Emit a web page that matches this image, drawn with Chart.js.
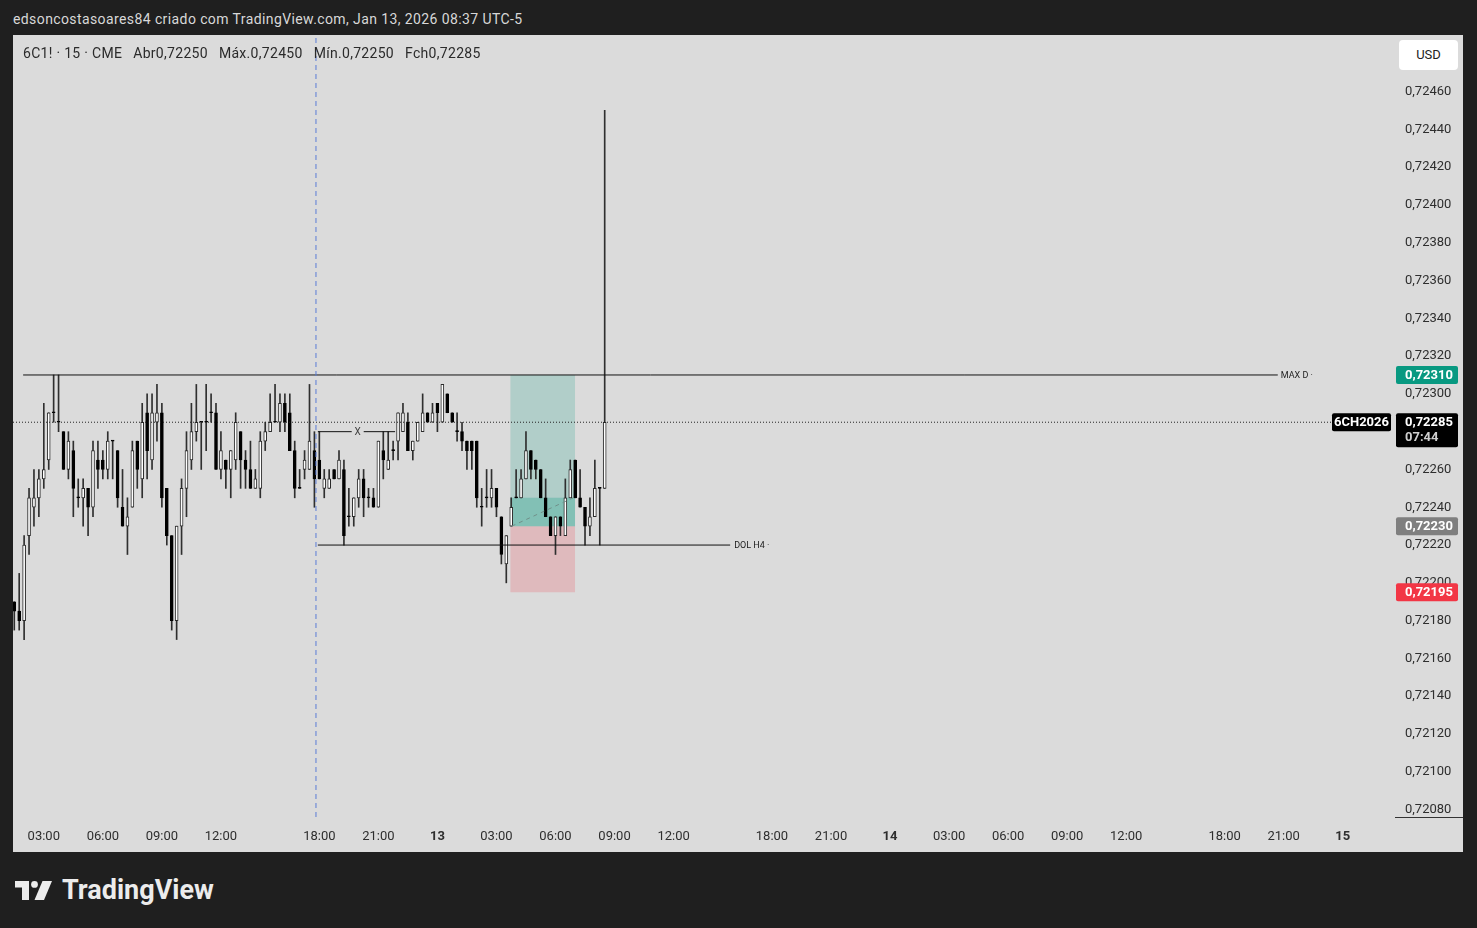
<!DOCTYPE html>
<html>
<head>
<meta charset="utf-8">
<title>6C1! · 15 · CME</title>
<script src="https://cdn.jsdelivr.net/npm/chart.js@4.4.1/dist/chart.umd.min.js"></script>
<style>
  html, body { margin: 0; padding: 0; width: 1477px; height: 928px; overflow: hidden; background: #1f1f1f; font-family: Roboto, "Liberation Sans", sans-serif; }
  #header { position: absolute; left: 13px; top: 11px; color: #d8d8d8; font-size: 14px; letter-spacing: 0.4px; white-space: nowrap; }
  #frame { position: absolute; left: 13px; top: 35px; width: 1450px; height: 817px; background: #dbdbdb; }
  #frame canvas { position: absolute; left: 0; top: 0; }
  #legend { position: absolute; left: 10px; top: 10px; color: #2b2b2b; font-size: 14px; letter-spacing: 0.3px; white-space: nowrap; z-index: 2; }
  #legend span { margin-right: 11px; }
  #usd { position: absolute; left: 1386px; top: 5px; width: 59px; height: 30px; background: #fff; border-radius: 4px; color: #222; font-size: 13px; line-height: 30px; text-align: center; z-index: 2; }
  #logo { position: absolute; left: 15px; top: 874px; height: 32px; display: flex; align-items: center; color: #ececec; font-size: 27px; font-weight: bold; letter-spacing: 0px; }
  #logo svg { margin-right: 10px; }
</style>
</head>
<body>
<div id="header">edsoncostasoares84 criado com TradingView.com, Jan 13, 2026 08:37 UTC-5</div>
<div id="frame">
  <canvas id="chart" width="1450" height="817"></canvas>
  <div id="legend"><span>6C1! · 15 · CME</span><span>Abr0,72250</span><span>Máx.0,72450</span><span>Mín.0,72250</span><span>Fch0,72285</span></div>
  <div id="usd">USD</div>
</div>
<div id="logo">
  <svg width="37" height="19" viewBox="0 0 37 19"><path d="M0 0H14V19H7V6.5H0Z" fill="#ececec"/><circle cx="19.5" cy="3.4" r="3.4" fill="#ececec"/><path d="M27.5 0H37L29 19H19.5Z" fill="#ececec"/></svg>
  TradingView
</div>
<script>
// 15 min candles, Jan 12 01:30 -> Jan 13 08:30
const opens = [
  0.72190,0.72185,0.72180,0.72225,0.72240,0.72245,0.72255,0.72265,0.72290,0.72285,
  0.72280,0.72260,0.72270,0.72245,0.72245,0.72250,0.72240,0.72265,0.72265,0.72260,
  0.72275,0.72270,0.72240,0.72230,0.72240,0.72275,0.72255,0.72290,0.72265,0.72285,
  0.72290,0.72250,0.72225,0.72180,0.72230,0.72250,0.72265,0.72280,0.72285,0.72285,
  0.72290,0.72290,0.72260,0.72265,0.72260,0.72265,0.72280,0.72265,0.72260,0.72250,
  0.72250,0.72275,0.72280,0.72285,0.72285,0.72295,0.72290,0.72270,0.72250,0.72260,
  0.72260,0.72270,0.72265,0.72250,0.72250,0.72260,0.72255,0.72260,0.72235,0.72235,
  0.72245,0.72255,0.72245,0.72245,0.72240,0.72270,0.72260,0.72270,0.72275,0.72280,
  0.72285,0.72270,0.72275,0.72280,0.72290,0.72285,0.72295,0.72285,0.72300,0.72290,
  0.72280,0.72280,0.72275,0.72275,0.72275,0.72240,0.72245,0.72245,0.72250,0.72235,
  0.72210,0.72230,0.72245,0.72245,0.72255,0.72270,0.72265,0.72260,0.72245,0.72235,
  0.72225,0.72235,0.72225,0.72245,0.72265,0.72245,0.72240,0.72230,0.72235,0.72250,
  0.72250
];
const highs = [
  0.72190,0.72205,0.72225,0.72250,0.72260,0.72260,0.72295,0.72290,0.72310,0.72310,
  0.72280,0.72280,0.72275,0.72255,0.72255,0.72250,0.72275,0.72275,0.72270,0.72280,
  0.72275,0.72270,0.72260,0.72245,0.72275,0.72275,0.72295,0.72300,0.72300,0.72305,
  0.72295,0.72250,0.72225,0.72230,0.72255,0.72280,0.72295,0.72305,0.72285,0.72305,
  0.72300,0.72295,0.72280,0.72265,0.72270,0.72290,0.72280,0.72270,0.72275,0.72260,
  0.72280,0.72285,0.72300,0.72305,0.72300,0.72300,0.72300,0.72275,0.72260,0.72270,
  0.72305,0.72280,0.72280,0.72260,0.72260,0.72260,0.72270,0.72265,0.72250,0.72245,
  0.72260,0.72260,0.72250,0.72250,0.72275,0.72280,0.72280,0.72275,0.72290,0.72295,
  0.72290,0.72275,0.72285,0.72300,0.72290,0.72295,0.72295,0.72305,0.72300,0.72290,
  0.72290,0.72285,0.72275,0.72275,0.72275,0.72250,0.72260,0.72260,0.72250,0.72235,
  0.72225,0.72245,0.72260,0.72260,0.72280,0.72270,0.72265,0.72260,0.72255,0.72235,
  0.72235,0.72235,0.72255,0.72265,0.72265,0.72260,0.72240,0.72245,0.72265,0.72250,
  0.72450
];
const lows = [
  0.72175,0.72175,0.72170,0.72215,0.72230,0.72235,0.72250,0.72260,0.72285,0.72280,
  0.72260,0.72255,0.72235,0.72240,0.72230,0.72225,0.72235,0.72250,0.72255,0.72255,
  0.72255,0.72240,0.72230,0.72215,0.72240,0.72250,0.72245,0.72255,0.72260,0.72275,
  0.72240,0.72220,0.72175,0.72170,0.72215,0.72235,0.72260,0.72275,0.72260,0.72270,
  0.72285,0.72260,0.72255,0.72250,0.72245,0.72260,0.72250,0.72250,0.72250,0.72250,
  0.72245,0.72270,0.72280,0.72285,0.72280,0.72280,0.72270,0.72245,0.72250,0.72255,
  0.72260,0.72240,0.72255,0.72245,0.72250,0.72255,0.72255,0.72220,0.72230,0.72230,
  0.72240,0.72235,0.72240,0.72240,0.72240,0.72255,0.72260,0.72265,0.72265,0.72280,
  0.72270,0.72265,0.72275,0.72280,0.72285,0.72285,0.72280,0.72285,0.72290,0.72285,
  0.72275,0.72270,0.72260,0.72260,0.72240,0.72230,0.72240,0.72240,0.72235,0.72210,
  0.72200,0.72230,0.72245,0.72245,0.72255,0.72255,0.72255,0.72245,0.72235,0.72225,
  0.72215,0.72225,0.72225,0.72245,0.72245,0.72240,0.72220,0.72225,0.72235,0.72220,
  0.72250
];
const closes = [
  0.72185,0.72180,0.72220,0.72245,0.72245,0.72255,0.72260,0.72290,0.72290,0.72285,
  0.72260,0.72275,0.72250,0.72245,0.72250,0.72240,0.72270,0.72260,0.72260,0.72275,
  0.72275,0.72245,0.72230,0.72235,0.72270,0.72260,0.72285,0.72270,0.72290,0.72290,
  0.72245,0.72225,0.72180,0.72230,0.72250,0.72270,0.72280,0.72285,0.72285,0.72285,
  0.72290,0.72260,0.72270,0.72260,0.72270,0.72285,0.72265,0.72260,0.72250,0.72255,
  0.72275,0.72280,0.72285,0.72285,0.72295,0.72285,0.72270,0.72250,0.72250,0.72265,
  0.72275,0.72255,0.72255,0.72255,0.72255,0.72255,0.72265,0.72225,0.72235,0.72245,
  0.72255,0.72245,0.72245,0.72240,0.72275,0.72265,0.72265,0.72270,0.72290,0.72290,
  0.72270,0.72275,0.72285,0.72290,0.72285,0.72290,0.72290,0.72305,0.72290,0.72285,
  0.72280,0.72275,0.72270,0.72270,0.72245,0.72240,0.72245,0.72250,0.72240,0.72215,
  0.72225,0.72240,0.72245,0.72255,0.72270,0.72260,0.72260,0.72245,0.72235,0.72225,
  0.72235,0.72230,0.72245,0.72260,0.72245,0.72240,0.72230,0.72235,0.72250,0.72250,
  0.72285
];

// time axis (candle index -> label)
const timeTickIdx = [6, 18, 30, 42, 62, 74, 86, 98, 110, 122, 134, 154, 166, 178, 190, 202, 214, 226, 246, 258, 270];
const timeTickText = ['03:00','06:00','09:00','12:00','18:00','21:00','13','03:00','06:00','09:00','12:00',
                      '18:00','21:00','14','03:00','06:00','09:00','12:00','18:00','21:00','15'];
const dayTicks = ['13', '14', '15'];

const priceTicks = [0.72080,0.72100,0.72120,0.72140,0.72160,0.72180,0.72200,0.72220,0.72240,0.72260,
                    0.72280,0.72300,0.72320,0.72340,0.72360,0.72380,0.72400,0.72420,0.72440,0.72460];

// drawings
const maxD = 0.72310, dolH4 = 0.72220, xLevel = 0.72280, lastPrice = 0.72285;
const posEntry = 0.72230, posTarget = 0.72310, posStop = 0.72195, posNow = 0.72245;
const tagValues = [0.72310, 0.72285, 0.72230, 0.72195];
const tagColors = ['#089981', '#000000', '#7f7f7f', '#f23645'];

const xMin = -0.26, xMax = 280.22, yMin = 0.720761, yMax = 0.724899;
const fmt = v => v.toFixed(5).replace('.', ',');

const idx = opens.map((_, i) => i);

function seg(points, color, dash, order) {
  return { type: 'line', data: points, borderColor: color, borderWidth: 1, borderDash: dash,
           pointRadius: 0, fill: false, tension: 0, order: order };
}
function zone(from, to, top, base, color, order) {
  return { type: 'line', data: [{x: from, y: top}, {x: to, y: top}], borderWidth: 0, borderColor: 'rgba(0,0,0,0)',
           pointRadius: 0, fill: {value: base}, backgroundColor: color, order: order };
}

const overlay = {
  id: 'overlay',
  afterDraw(chart) {
    const {ctx, chartArea: a, scales: {x, y}} = chart;
    ctx.save();
    // drawing labels
    ctx.textBaseline = 'middle';
    ctx.fillStyle = '#222';
    ctx.font = '9px Roboto';
    ctx.fillText('MAX D ·', x.getPixelForValue(256.8) + 3, y.getPixelForValue(maxD) + 0.5);
    ctx.fillText('DOL H4 ·', x.getPixelForValue(145.5) + 4, y.getPixelForValue(dolH4) + 0.5);
    const xm = x.getPixelForValue(69.8), ym = y.getPixelForValue(xLevel);
    ctx.fillStyle = '#dbdbdb';
    ctx.fillRect(xm - 6, ym - 3, 12, 6);
    ctx.fillStyle = '#444';
    ctx.font = '10px Roboto';
    ctx.textAlign = 'center';
    ctx.fillText('X', xm, ym + 0.5);

    // price axis tags
    const tx = a.right + 3, tw = 62;
    tagValues.forEach((v, i) => {
      const yc = y.getPixelForValue(v);
      const h = i === 1 ? 34 : 18;
      ctx.fillStyle = tagColors[i];
      ctx.beginPath();
      ctx.roundRect(tx, yc - 9, tw, h, 2);
      ctx.fill();
      ctx.fillStyle = '#fff';
      ctx.font = 'bold 13px Roboto';
      ctx.textAlign = 'left';
      ctx.fillText(fmt(v), a.right + 12, yc + 0.5);
      if (i === 1) {
        ctx.fillStyle = '#cfcfcf';
        ctx.fillText('07:44', a.right + 12, yc + 16);
        ctx.fillStyle = '#000';
        ctx.beginPath();
        ctx.roundRect(a.right - 61, yc - 9, 59, 18, 2);
        ctx.fill();
        ctx.fillStyle = '#fff';
        ctx.textAlign = 'center';
        ctx.fillText('6CH2026', a.right - 31.5, yc + 0.5);
      }
    });
    // price scale bottom edge
    ctx.strokeStyle = '#333';
    ctx.lineWidth = 1;
    ctx.beginPath();
    ctx.moveTo(a.right + 2, a.bottom + 0.5);
    ctx.lineTo(chart.width, a.bottom + 0.5);
    ctx.stroke();
    ctx.restore();
  }
};

Chart.defaults.font.family = 'Roboto, "Liberation Sans", sans-serif';
Chart.defaults.font.size = 13;
Chart.defaults.color = '#2e2e2e';

new Chart(document.getElementById('chart'), {
  type: 'bar',
  data: {
    datasets: [
      // position tool
      zone(100.8, 114.0, posTarget, posEntry, 'rgba(8,153,129,0.2)', 6),
      zone(100.8, 114.0, posStop, posEntry, 'rgba(242,54,69,0.2)', 6),
      zone(100.8, 114.0, posNow, posEntry, 'rgba(8,153,129,0.28)', 5),
      // candles
      { type: 'bar', data: idx.map(i => ({x: i, y: [lows[i], highs[i]]})), grouped: false,
        barThickness: 1, minBarLength: 1, backgroundColor: '#2f2f2f', borderWidth: 0, order: 3 },
      { type: 'bar', data: idx.map(i => ({x: i, y: [opens[i], closes[i]]})), grouped: false,
        barThickness: 3, minBarLength: 1,
        backgroundColor: idx.map(i => closes[i] > opens[i] ? '#ffffff' : '#000000'),
        borderColor: idx.map(i => closes[i] > opens[i] ? '#2a2a2a' : '#000000'),
        borderWidth: 1, borderSkipped: false, order: 2 },
      // lines
      seg([{x: 1.8, y: maxD}, {x: 256.8, y: maxD}], '#111', [], 1),
      seg([{x: 61.7, y: dolH4}, {x: 145.5, y: dolH4}], '#111', [], 1),
      seg([{x: 61.7, y: xLevel}, {x: 77.4, y: xLevel}], '#111', [], 1),
      seg([{x: xMin, y: lastPrice}, {x: xMax, y: lastPrice}], '#222', [1, 2], 1),
      seg([{x: 101.1, y: posEntry}, {x: 113.6, y: posNow}], '#6f8f88', [4, 4], 1),
      seg([{x: 61.32, y: yMin}, {x: 61.32, y: yMax}], '#5a7bd6', [5, 4], 0)
    ]
  },
  options: {
    responsive: false,
    animation: false,
    events: [],
    layout: { padding: 0 },
    plugins: { legend: { display: false }, tooltip: { enabled: false } },
    scales: {
      x: {
        type: 'linear', min: xMin, max: xMax, offset: false,
        grid: { display: false, drawTicks: false }, border: { display: false },
        afterBuildTicks: s => { s.ticks = timeTickIdx.map(v => ({value: v})); },
        afterFit: s => { s.height = 35; s.paddingLeft = 0; s.paddingRight = 0; },
        ticks: {
          autoSkip: false, maxRotation: 0, minRotation: 0, padding: 12, color: '#2e2e2e',
          callback: (v, i) => timeTickText[i],
          font: c => ({ size: 13, weight: dayTicks.includes(timeTickText[c.index]) ? 'bold' : 'normal' })
        }
      },
      y: {
        type: 'linear', position: 'right', min: yMin, max: yMax,
        grid: { display: false, drawTicks: false }, border: { display: false },
        afterBuildTicks: s => { s.ticks = priceTicks.map(v => ({value: v})); },
        afterFit: s => { s.width = 70; s.paddingTop = 0; s.paddingBottom = 0; },
        ticks: { padding: 12, color: '#2e2e2e', callback: v => fmt(v) }
      }
    }
  },
  plugins: [overlay]
});
</script>
</body>
</html>
